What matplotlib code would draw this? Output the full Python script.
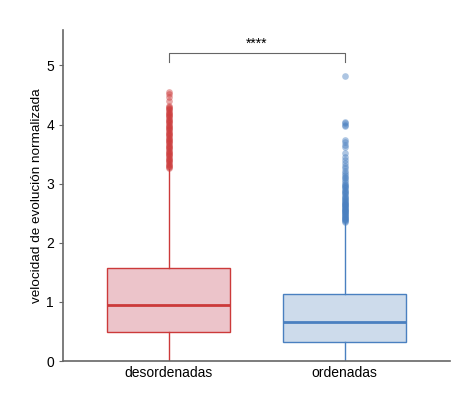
import matplotlib
matplotlib.use("Agg")
import matplotlib.pyplot as plt

plt.rcParams["font.family"] = ["Liberation Sans", "DejaVu Sans"]

# datos
categorias = ["desordenadas", "ordenadas"]
q1 = [0.49, 0.32]
mediana = [0.955, 0.655]
q3 = [1.58, 1.13]
bigote_inf = [0.0, 0.0]
bigote_sup = [3.25, 2.35]
atipicos_des = [3.26, 3.28, 3.30, 3.32, 3.34, 3.36, 3.38, 3.40, 3.42, 3.44,
                3.46, 3.48, 3.50, 3.52, 3.54, 3.56, 3.58, 3.60, 3.62, 3.64,
                3.66, 3.68, 3.70, 3.72, 3.74, 3.76, 3.78, 3.80, 3.82, 3.84,
                3.86, 3.88, 3.90, 3.92, 3.94, 3.96, 3.98, 4.00, 4.02, 4.04,
                4.06, 4.08, 4.10, 4.12, 4.14, 4.16, 4.18, 4.20, 4.22, 4.24,
                4.26, 4.28, 4.30, 4.32, 4.39, 4.47, 4.51, 4.55]
atipicos_ord = [2.36, 2.37, 2.38, 2.40, 2.41, 2.42, 2.44, 2.45, 2.46, 2.48,
                2.49, 2.50, 2.52, 2.53, 2.54, 2.56, 2.57, 2.58, 2.60, 2.61,
                2.62, 2.64, 2.65, 2.66, 2.68, 2.69, 2.70, 2.72, 2.74, 2.76,
                2.78, 2.80, 2.82, 2.84, 2.86, 2.88, 2.90, 2.92, 2.94, 2.96,
                2.98, 3.00, 3.03, 3.06, 3.09, 3.12, 3.15, 3.18, 3.22, 3.26,
                3.30, 3.35, 3.40, 3.45, 3.52, 3.62, 3.66, 3.70, 3.74, 3.98,
                4.00, 4.02, 4.04, 4.82]
atipicos = [atipicos_des, atipicos_ord]
significancia = "****"
y_corchete = 5.21

color_borde = ["#cc3a3a", "#4a80c0"]
color_relleno = ["#ecc4ca", "#cddbeb"]

fig = plt.figure(figsize=(4.66, 3.99), dpi=100)
ax = fig.add_axes([0.135, 0.095, 0.831, 0.83])

stats = []
for i in range(len(categorias)):
    stats.append({
        "label": categorias[i],
        "q1": q1[i], "med": mediana[i], "q3": q3[i],
        "whislo": bigote_inf[i], "whishi": bigote_sup[i],
        "fliers": atipicos[i],
    })

for i, s in enumerate(stats):
    ax.bxp([s], positions=[i], widths=0.7, patch_artist=True, showcaps=False,
           boxprops=dict(facecolor=color_relleno[i], edgecolor=color_borde[i], linewidth=1.0),
           medianprops=dict(color=color_borde[i], linewidth=2.0),
           whiskerprops=dict(color=color_borde[i], linewidth=1.0),
           flierprops=dict(marker="o", markersize=4.8, markerfacecolor=color_borde[i],
                           markeredgecolor="none", alpha=0.45))

# corchete de significancia
ax.plot([0, 0, 1, 1], [y_corchete - 0.15, y_corchete, y_corchete, y_corchete - 0.15],
        color="#666666", linewidth=0.8)
ax.text(0.5, y_corchete + 0.04, significancia, ha="center", va="bottom", fontsize=10)

ax.set_xlim(-0.6, 1.6)
ax.set_ylim(0, 5.6)
ax.set_yticks([0, 1, 2, 3, 4, 5])
ax.set_xticks([0, 1])
ax.set_xticklabels(categorias)
ax.set_ylabel("velocidad de evolución normalizada", fontsize=9.7, labelpad=2)
ax.tick_params(labelsize=10, length=3, color="#666666")
ax.tick_params(axis="x", length=0)
for lado in ["top", "right"]:
    ax.spines[lado].set_visible(False)
for lado in ["left", "bottom"]:
    ax.spines[lado].set_color("#666666")
    ax.spines[lado].set_linewidth(1.2)

fig.savefig("out.png", dpi=100)
